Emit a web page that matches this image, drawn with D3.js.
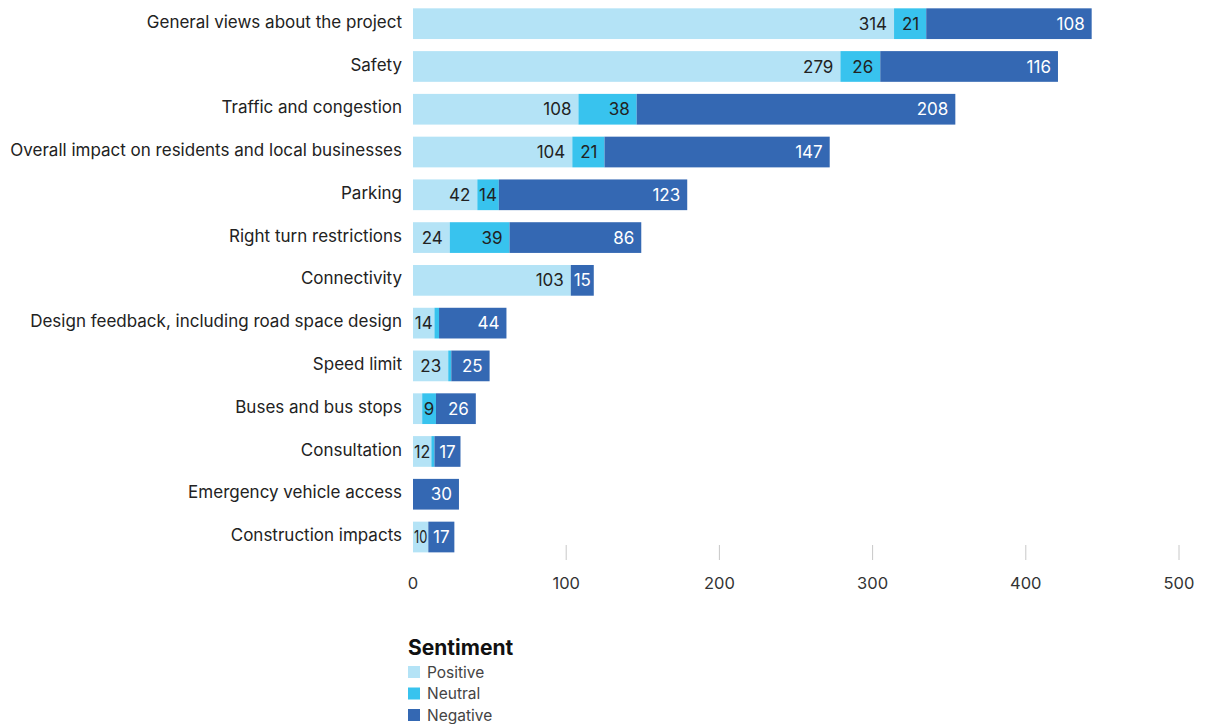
<!DOCTYPE html>
<html>
<head>
<meta charset="utf-8">
<script src="https://cdn.jsdelivr.net/npm/d3@7"></script>
<style>
  body { margin: 0; background: #fff; }
  svg text { font-family: Inter, "Noto Sans", sans-serif; }
</style>
</head>
<body>
<div id="chart"></div>
<script>
// Data
const categories = [
  "General views about the project",
  "Safety",
  "Traffic and congestion",
  "Overall impact on residents and local businesses",
  "Parking",
  "Right turn restrictions",
  "Connectivity",
  "Design feedback, including road space design",
  "Speed limit",
  "Buses and bus stops",
  "Consultation",
  "Emergency vehicle access",
  "Construction impacts"
];
const positive = [314, 279, 108, 104, 42, 24, 103, 14, 23, 6, 12, 0, 10];
const neutral  = [21, 26, 38, 21, 14, 39, 0, 3, 2, 9, 2, 0, 0];
const negative = [108, 116, 208, 147, 123, 86, 15, 44, 25, 26, 17, 30, 17];
// labels shown on the bars
const neutralLabels = [true, true, true, true, true, true, false, false, false, true, false, false, false];
const positiveLabels = [true, true, true, true, true, true, true, true, true, false, true, false, true];
const xTicks = [0, 100, 200, 300, 400, 500];

const seriesKeys = ["Positive", "Neutral", "Negative"];
const colors = { Positive: "#b4e3f6", Neutral: "#38c3ee", Negative: "#3468b3" };
const textColors = { Positive: "#222", Neutral: "#222", Negative: "#fff" };

const width = 1213, height = 724;

const svg = d3.select("#chart").append("svg")
  .attr("width", width)
  .attr("height", height);

// Scales
const x = d3.scaleLinear().domain([0, 500]).range([413, 1179]);
const y = d3.scaleBand()
  .domain(categories)
  .range([2.3, 558.4])
  .paddingInner(0.282)
  .paddingOuter(0.141);

// Build stacked rows
const rows = categories.map((c, i) => ({
  category: c,
  Positive: positive[i],
  Neutral: neutral[i],
  Negative: negative[i],
  i: i
}));
const stacked = d3.stack().keys(seriesKeys)(rows);

// Axis tick lines (none at 0) and labels
const axis = svg.append("g");
axis.selectAll("line")
  .data(xTicks.filter(t => t > 0))
  .enter().append("line")
  .attr("x1", d => x(d)).attr("x2", d => x(d))
  .attr("y1", 545).attr("y2", 560)
  .attr("stroke", "#c8c8c8")
  .attr("stroke-width", 1);
axis.selectAll("text")
  .data(xTicks)
  .enter().append("text")
  .attr("x", d => x(d))
  .attr("y", 589)
  .attr("text-anchor", "middle")
  .attr("fill", "#333")
  .style("font-size", "16.5px")
  .text(d => d);

// Bars
const layers = svg.append("g").selectAll("g")
  .data(stacked)
  .enter().append("g")
  .attr("fill", d => colors[d.key]);

layers.selectAll("rect")
  .data(d => d.filter(s => s[1] - s[0] > 0))
  .enter().append("rect")
  .attr("x", d => x(d[0]))
  .attr("y", d => y(d.data.category))
  .attr("width", d => x(d[1]) - x(d[0]))
  .attr("height", y.bandwidth());

// Value labels inside segments
stacked.forEach(layer => {
  const key = layer.key;
  layer.forEach(s => {
    const v = s[1] - s[0];
    if (v <= 0) return;
    const i = s.data.i;
    if (key === "Neutral" && !neutralLabels[i]) return;
    if (key === "Positive" && !positiveLabels[i]) return;
    const x0 = x(s[0]), x1 = x(s[1]);
    const segW = x1 - x0;
    const t = svg.append("text")
      .attr("y", y(s.data.category) + y.bandwidth() / 2)
      .attr("dy", "0.36em")
      .attr("fill", textColors[key])
      .style("font-size", "17px")
      .text(v);
    const tw = t.node().getComputedTextLength();
    if (segW >= tw + 10) {
      t.attr("x", x1 - 7).attr("text-anchor", "end");
    } else {
      t.attr("x", (x0 + x1) / 2).attr("text-anchor", "middle");
      if (tw > segW - 2) {
        t.attr("textLength", segW - 2).attr("lengthAdjust", "spacingAndGlyphs");
      }
    }
  });
});

// Category labels
svg.append("g").selectAll("text")
  .data(categories)
  .enter().append("text")
  .attr("x", 402)
  .attr("y", d => y(d) + y.bandwidth() / 2 - 2)
  .attr("dy", "0.36em")
  .attr("text-anchor", "end")
  .attr("fill", "#222")
  .style("font-size", "17px")
  .text(d => d);

// Legend
const legend = svg.append("g").attr("transform", "translate(408, 0)");
legend.append("text")
  .attr("x", 0).attr("y", 655)
  .attr("fill", "#111")
  .style("font-size", "21px")
  .style("font-weight", "bold")
  .text("Sentiment");
seriesKeys.forEach((k, j) => {
  const cy = 672 + j * 21.5;
  legend.append("rect")
    .attr("x", 0).attr("y", cy - 6)
    .attr("width", 12).attr("height", 12)
    .attr("fill", colors[k]);
  legend.append("text")
    .attr("x", 19).attr("y", cy)
    .attr("dy", "0.36em")
    .attr("fill", "#444")
    .style("font-size", "15.5px")
    .text(k);
});
</script>
</body>
</html>
